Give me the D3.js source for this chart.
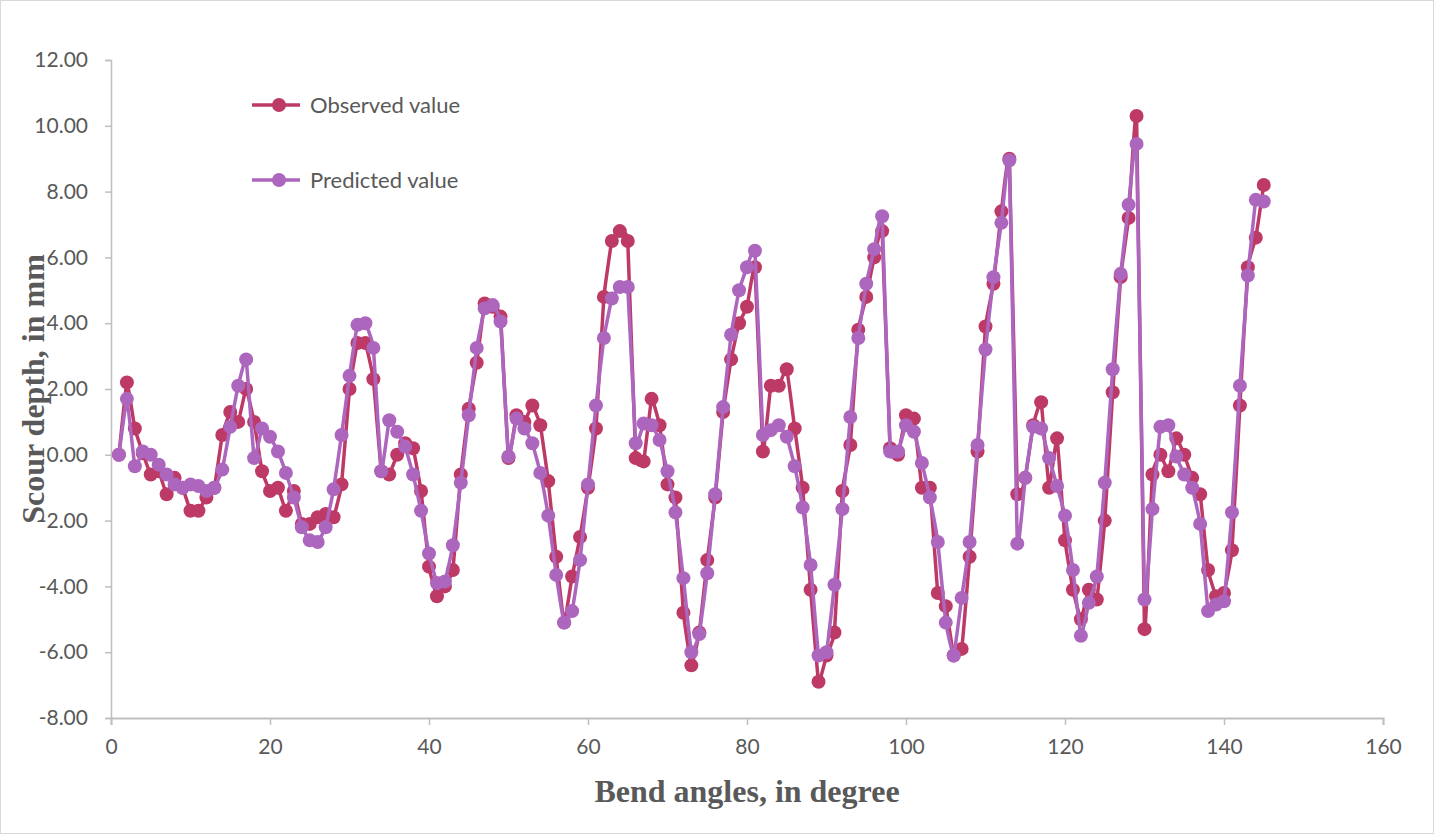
<html>
<head>
<meta charset="utf-8">
<title>Scour depth</title>
<style>
  body { margin: 0; background: #fff; }
  svg { display: block; }
</style>
</head>
<body>
<script src="https://cdn.jsdelivr.net/npm/d3@7"></script>
<script>
// bend angle (x) for every point
var angles = d3.range(1, 146);

// observed scour depth, mm
var observed = [
  0, 2.2, 0.8, 0.05, -0.6, -0.5, -1.2, -0.7, -1.0, -1.7,
  -1.7, -1.3, -1.0, 0.6, 1.3, 1.0, 2.0, 1.0, -0.5, -1.1,
  -1.0, -1.7, -1.1, -2.1, -2.1, -1.9, -1.8, -1.9, -0.9, 2.0,
  3.4, 3.4, 2.3, -0.5, -0.6, 0.0, 0.35, 0.2, -1.1, -3.4,
  -4.3, -4.0, -3.5, -0.6, 1.4, 2.8, 4.6, 4.5, 4.2, -0.1,
  1.2, 1.0, 1.5, 0.9, -0.8, -3.1, -5.1, -3.7, -2.5, -1.0,
  0.8, 4.8, 6.5, 6.8, 6.5, -0.1, -0.2, 1.7, 0.9, -0.9,
  -1.3, -4.8, -6.4, -5.4, -3.2, -1.3, 1.3, 2.9, 4.0, 4.5,
  5.7, 0.1, 2.1, 2.1, 2.6, 0.8, -1.0, -4.1, -6.9, -6.1,
  -5.4, -1.1, 0.3, 3.8, 4.8, 6.0, 6.8, 0.2, 0.0, 1.2,
  1.1, -1.0, -1.0, -4.2, -4.6, -6.1, -5.9, -3.1, 0.1, 3.9,
  5.2, 7.4, 9.0, -1.2, -0.7, 0.9, 1.6, -1.0, 0.5, -2.6,
  -4.1, -5.0, -4.1, -4.4, -2.0, 1.9, 5.4, 7.2, 10.3, -5.3,
  -0.6, 0.0, -0.5, 0.5, 0.0, -0.7, -1.2, -3.5, -4.3, -4.2,
  -2.9, 1.5, 5.7, 6.6, 8.2
];

// predicted scour depth, mm
var predicted = [
  0, 1.7, -0.35, 0.1, 0.0, -0.3, -0.6, -0.9, -1.0, -0.9,
  -0.95, -1.1, -1.0, -0.45, 0.85, 2.1, 2.9, -0.1, 0.8, 0.55,
  0.1, -0.55, -1.3, -2.2, -2.6, -2.65, -2.2, -1.05, 0.6, 2.4,
  3.95, 4.0, 3.25, -0.5, 1.05, 0.7, 0.25, -0.6, -1.7, -3.0,
  -3.9, -3.85, -2.75, -0.85, 1.2, 3.25, 4.45, 4.55, 4.05, -0.05,
  1.1, 0.8, 0.35, -0.55, -1.85, -3.65, -5.1, -4.75, -3.2, -0.9,
  1.5, 3.55, 4.75, 5.1, 5.1, 0.35, 0.95, 0.9, 0.45, -0.5,
  -1.75, -3.75, -6.0, -5.45, -3.6, -1.2, 1.45, 3.65, 5.0, 5.7,
  6.2, 0.6, 0.75, 0.9, 0.55, -0.35, -1.6, -3.35, -6.1, -6.0,
  -3.95, -1.65, 1.15, 3.55, 5.2, 6.25, 7.25, 0.1, 0.1, 0.9,
  0.7, -0.25, -1.3, -2.65, -5.1, -6.1, -4.35, -2.65, 0.3, 3.2,
  5.4, 7.05, 8.95, -2.7, -0.7, 0.85, 0.8, -0.1, -0.95, -1.85,
  -3.5, -5.5, -4.5, -3.7, -0.85, 2.6, 5.5, 7.6, 9.45, -4.4,
  -1.65, 0.85, 0.9, -0.05, -0.6, -1.0, -2.1, -4.75, -4.55, -4.45,
  -1.75, 2.1, 5.45, 7.75, 7.7
];

var seriesNames = ["Observed value", "Predicted value"];
var seriesColors = ["#BE3A66", "#AD66BE"];
var xTicks = d3.range(0, 161, 20);
var yTicks = d3.range(-8, 12.01, 2);

var width = 1434, height = 834;
var svg = d3.select("body").append("svg")
  .attr("width", width)
  .attr("height", height);

// outer frame
svg.append("rect")
  .attr("x", 0.5).attr("y", 0.5)
  .attr("width", width - 1).attr("height", height - 1)
  .attr("fill", "#fff").attr("stroke", "#D9D9D9");

var plotL = 111, plotR = 1383, plotT = 60, plotB = 718;

var x = d3.scaleLinear().domain([0, 160]).range([plotL, plotR]);
var y = d3.scaleLinear().domain([-8, 12]).range([plotB, plotT]);

var fmt2 = function(d) { return d.toFixed(2); }; // plain hyphen minus, like the original

// y axis
var yAxis = svg.append("g")
  .attr("transform", "translate(" + plotL + ",0)")
  .call(d3.axisLeft(y).tickValues(yTicks).tickFormat(fmt2).tickSize(6).tickPadding(17));
// x axis
var xAxis = svg.append("g")
  .attr("transform", "translate(0," + plotB + ")")
  .call(d3.axisBottom(x).tickValues(xTicks).tickSize(7).tickPadding(14));

[xAxis, yAxis].forEach(function(g) {
  g.selectAll("path, line").attr("stroke", "#BFBFBF").attr("stroke-width", 1.5);
  g.selectAll("text")
    .attr("fill", "#595959")
    .style("font-family", "Lato, 'Open Sans', sans-serif")
    .style("font-size", "21px");
});
xAxis.select(".domain").attr("stroke-width", 2);

// axis titles
svg.append("text")
  .attr("x", (plotL + plotR) / 2).attr("y", 802)
  .attr("text-anchor", "middle")
  .attr("fill", "#595959")
  .style("font-family", "'Liberation Serif', 'Times New Roman', serif")
  .style("font-weight", "bold")
  .style("font-size", "32px")
  .text("Bend angles, in degree");

svg.append("text")
  .attr("transform", "translate(44," + ((plotT + plotB) / 2) + ") rotate(-90)")
  .attr("text-anchor", "middle")
  .attr("fill", "#595959")
  .style("font-family", "'Liberation Serif', 'Times New Roman', serif")
  .style("font-weight", "bold")
  .style("font-size", "32px")
  .text("Scour depth, in mm");

var line = d3.line()
  .x(function(d) { return x(d[0]); })
  .y(function(d) { return y(d[1]); })
  .curve(d3.curveCardinal.tension(0.7));

[observed, predicted].forEach(function(vals, s) {
  var pts = angles.map(function(a, i) { return [a, vals[i]]; });
  var g = svg.append("g");
  g.append("path")
    .datum(pts)
    .attr("d", line)
    .attr("fill", "none")
    .attr("stroke", seriesColors[s])
    .attr("stroke-width", 3.5)
    .attr("stroke-linejoin", "round");
  g.selectAll("circle")
    .data(pts)
    .enter().append("circle")
    .attr("cx", function(d) { return x(d[0]); })
    .attr("cy", function(d) { return y(d[1]); })
    .attr("r", 7)
    .attr("fill", seriesColors[s]);
});

// legend
var legend = svg.append("g").attr("transform", "translate(252,105)");
seriesNames.forEach(function(name, i) {
  var row = legend.append("g").attr("transform", "translate(0," + (i * 75) + ")");
  row.append("line")
    .attr("x1", 0).attr("x2", 48).attr("y1", 0).attr("y2", 0)
    .attr("stroke", seriesColors[i]).attr("stroke-width", 3.5);
  row.append("circle")
    .attr("cx", 27).attr("cy", 0).attr("r", 7)
    .attr("fill", seriesColors[i]);
  row.append("text")
    .attr("x", 58).attr("y", 0).attr("dy", "0.35em")
    .attr("fill", "#595959")
    .style("font-family", "Lato, 'Open Sans', sans-serif")
    .style("font-size", "22px")
    .text(name);
});
</script>
</body>
</html>
